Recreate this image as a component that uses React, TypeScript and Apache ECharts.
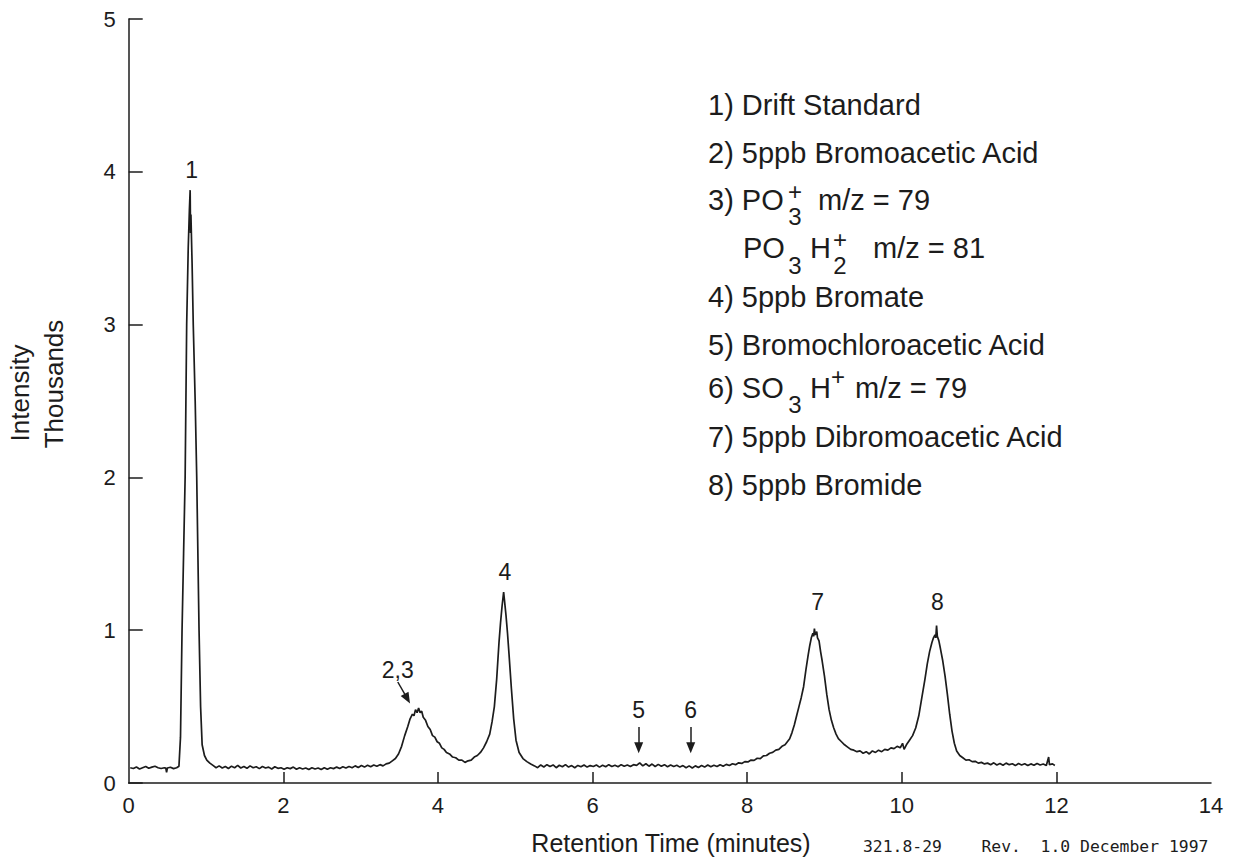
import { useEffect, useRef } from 'react';
import * as echarts from 'echarts';

const FONT = '"Liberation Sans", Arial, Helvetica, sans-serif';
const MONO = '"DejaVu Sans Mono", "Liberation Mono", monospace';
const INK = '#1c1c1c';

// ---- axes ----
const xMin = 0;
const xMax = 14;
const xStep = 2;
const xTickMarks = [2, 4, 6, 8, 10, 12];
const yMin = 0;
const yMax = 5;
const yStep = 1;

// ---- trace (retention time in minutes, intensity in thousands) ----
const baselineStart: number[][] = [
  [0.02, 0.1], [0.06, 0.095], [0.1, 0.105], [0.14, 0.092], [0.18, 0.1], [0.22, 0.108], [0.26, 0.096],
  [0.3, 0.104], [0.34, 0.11], [0.38, 0.1], [0.42, 0.095], [0.46, 0.1], [0.48, 0.098], [0.49, 0.07],
  [0.5, 0.098], [0.54, 0.103], [0.58, 0.094], [0.62, 0.1],
];
const peakDrift: number[][] = [
  [0.65, 0.11], [0.67, 0.3], [0.69, 1.0], [0.71, 1.5], [0.73, 2.0], [0.75, 3.0], [0.77, 3.5],
  [0.785, 3.75], [0.795, 3.88], [0.8, 3.6], [0.805, 3.72], [0.82, 3.4], [0.835, 3.0], [0.86, 2.5],
  [0.88, 2.0], [0.91, 1.0], [0.93, 0.5], [0.95, 0.25], [0.98, 0.18], [1.01, 0.15], [1.05, 0.13], [1.09, 0.115],
];
const baselineEarly: number[][] = [
  [1.13, 0.1], [1.17, 0.112], [1.21, 0.098], [1.25, 0.108], [1.29, 0.095], [1.33, 0.11], [1.37, 0.1],
  [1.41, 0.115], [1.45, 0.098], [1.49, 0.108], [1.53, 0.096], [1.57, 0.112], [1.61, 0.1], [1.65, 0.106],
  [1.69, 0.094], [1.73, 0.108], [1.77, 0.098], [1.81, 0.104], [1.85, 0.092], [1.89, 0.106], [1.93, 0.096],
  [1.97, 0.1], [2.01, 0.09], [2.05, 0.1], [2.09, 0.094], [2.13, 0.104], [2.17, 0.09], [2.21, 0.1],
  [2.25, 0.092], [2.29, 0.098], [2.33, 0.088], [2.37, 0.1], [2.41, 0.092], [2.45, 0.098], [2.49, 0.088],
  [2.53, 0.1], [2.57, 0.09], [2.61, 0.1], [2.65, 0.094], [2.69, 0.104], [2.73, 0.095], [2.77, 0.106],
  [2.81, 0.098], [2.85, 0.108], [2.89, 0.1], [2.93, 0.112], [2.97, 0.102], [3.01, 0.114], [3.05, 0.104],
  [3.09, 0.116], [3.13, 0.106], [3.17, 0.118], [3.21, 0.11], [3.25, 0.12], [3.29, 0.112], [3.33, 0.125], [3.37, 0.13],
];
const peaksBromoBromate: number[][] = [
  [3.41, 0.145], [3.45, 0.16], [3.49, 0.19], [3.53, 0.24], [3.57, 0.31], [3.61, 0.37], [3.64, 0.42],
  [3.67, 0.45], [3.69, 0.44], [3.71, 0.48], [3.73, 0.46], [3.75, 0.49], [3.77, 0.46], [3.79, 0.47],
  [3.81, 0.43], [3.84, 0.41], [3.87, 0.37], [3.9, 0.35], [3.93, 0.31], [3.96, 0.3], [3.99, 0.27],
  [4.02, 0.26], [4.05, 0.23], [4.08, 0.22], [4.11, 0.2], [4.15, 0.19], [4.19, 0.17], [4.23, 0.165],
  [4.27, 0.15], [4.31, 0.15], [4.35, 0.135], [4.39, 0.145], [4.43, 0.15], [4.47, 0.17], [4.51, 0.18],
  [4.55, 0.2], [4.59, 0.23], [4.63, 0.27], [4.67, 0.32], [4.7, 0.4], [4.73, 0.5], [4.76, 0.68],
  [4.79, 0.92], [4.81, 1.05], [4.83, 1.16], [4.85, 1.25], [4.86, 1.2], [4.88, 1.1], [4.9, 0.98],
  [4.92, 0.84], [4.95, 0.62], [4.98, 0.42], [5.01, 0.28], [5.05, 0.2], [5.1, 0.16], [5.15, 0.14],
  [5.2, 0.125], [5.25, 0.112],
];
const baselineMiddle: number[][] = [
  [5.29, 0.1], [5.33, 0.118], [5.37, 0.105], [5.41, 0.12], [5.45, 0.108], [5.49, 0.118], [5.53, 0.1],
  [5.57, 0.116], [5.61, 0.106], [5.65, 0.12], [5.69, 0.104], [5.73, 0.114], [5.77, 0.1], [5.81, 0.115],
  [5.85, 0.106], [5.89, 0.118], [5.93, 0.104], [5.97, 0.114], [6.01, 0.108], [6.05, 0.118], [6.09, 0.104],
  [6.13, 0.116], [6.17, 0.106], [6.21, 0.12], [6.25, 0.108], [6.29, 0.116], [6.33, 0.106], [6.37, 0.12],
  [6.41, 0.11], [6.45, 0.118], [6.49, 0.108], [6.53, 0.12], [6.57, 0.115], [6.61, 0.132], [6.65, 0.112],
  [6.69, 0.126], [6.73, 0.11], [6.77, 0.124], [6.81, 0.108], [6.85, 0.122], [6.89, 0.11], [6.93, 0.12],
  [6.97, 0.106], [7.01, 0.118], [7.05, 0.108], [7.09, 0.116], [7.13, 0.104], [7.17, 0.114], [7.21, 0.1],
  [7.25, 0.112], [7.29, 0.098], [7.33, 0.112], [7.37, 0.102], [7.41, 0.114], [7.45, 0.104], [7.49, 0.118],
  [7.53, 0.106], [7.57, 0.116], [7.61, 0.108], [7.65, 0.12], [7.69, 0.11], [7.73, 0.122], [7.77, 0.114],
  [7.81, 0.126], [7.85, 0.12],
];
const peaksDibromoBromide: number[][] = [
  [7.89, 0.132], [7.93, 0.128], [7.97, 0.14], [8.01, 0.138], [8.05, 0.15], [8.09, 0.148], [8.13, 0.162],
  [8.17, 0.16], [8.21, 0.178], [8.25, 0.18], [8.29, 0.195], [8.33, 0.2], [8.37, 0.215], [8.41, 0.22],
  [8.45, 0.24], [8.49, 0.25], [8.52, 0.27], [8.55, 0.29], [8.58, 0.33], [8.61, 0.38], [8.64, 0.44],
  [8.67, 0.5], [8.7, 0.56], [8.73, 0.63], [8.76, 0.74], [8.79, 0.84], [8.81, 0.9], [8.83, 0.95],
  [8.85, 0.98], [8.86, 0.96], [8.87, 1.01], [8.88, 0.97], [8.9, 0.99], [8.91, 0.95], [8.93, 0.93],
  [8.95, 0.86], [8.97, 0.8], [9.0, 0.7], [9.03, 0.58], [9.06, 0.48], [9.09, 0.41], [9.12, 0.36],
  [9.15, 0.32], [9.18, 0.29], [9.22, 0.27], [9.26, 0.25], [9.3, 0.235], [9.34, 0.22], [9.38, 0.215],
  [9.42, 0.205], [9.46, 0.21], [9.5, 0.195], [9.54, 0.205], [9.58, 0.19], [9.62, 0.21], [9.66, 0.2],
  [9.7, 0.215], [9.74, 0.205], [9.78, 0.22], [9.82, 0.215], [9.86, 0.23], [9.9, 0.225], [9.94, 0.24],
  [9.98, 0.23], [10.01, 0.26], [10.03, 0.22], [10.06, 0.25], [10.1, 0.28], [10.14, 0.31], [10.18, 0.36],
  [10.22, 0.44], [10.26, 0.56], [10.3, 0.68], [10.33, 0.78], [10.36, 0.86], [10.39, 0.92], [10.41, 0.95],
  [10.43, 0.97], [10.44, 0.95], [10.45, 1.03], [10.46, 0.96], [10.48, 0.93], [10.5, 0.88], [10.53, 0.8],
  [10.56, 0.7], [10.59, 0.58], [10.62, 0.45], [10.65, 0.34], [10.68, 0.26], [10.71, 0.21], [10.75, 0.18],
  [10.79, 0.165], [10.83, 0.15], [10.87, 0.152], [10.91, 0.14], [10.95, 0.142], [10.99, 0.13],
];
const baselineEnd: number[][] = [
  [11.03, 0.135], [11.07, 0.125], [11.11, 0.13], [11.15, 0.12], [11.19, 0.132], [11.23, 0.118],
  [11.27, 0.128], [11.31, 0.116], [11.35, 0.13], [11.39, 0.12], [11.43, 0.126], [11.47, 0.114],
  [11.51, 0.128], [11.55, 0.118], [11.59, 0.126], [11.63, 0.114], [11.67, 0.125], [11.71, 0.116],
  [11.75, 0.128], [11.79, 0.118], [11.83, 0.124], [11.87, 0.115], [11.9, 0.17], [11.91, 0.12],
  [11.95, 0.125], [11.98, 0.115],
];

// ---- peak annotations ----
const peakLabels = ['1', '2,3', '4', '5', '6', '7', '8'];
const peakLabelTime = [0.814, 3.48, 4.865, 6.597, 7.27, 8.911, 10.46];
const peakLabelIntensity = [4.01, 0.74, 1.383, 0.478, 0.478, 1.185, 1.185];
const arrowStart = [[3.481, 0.661], [6.597, 0.366], [7.27, 0.366]];
const arrowEnd = [[3.604, 0.552], [6.597, 0.23], [7.27, 0.23]];

// ---- texts ----
const legendLines = [
  '1) Drift Standard',
  '2) 5ppb Bromoacetic Acid',
  '3) PO',
  'PO',
  '4) 5ppb Bromate',
  '5) Bromochloroacetic Acid',
  '6) SO',
  '7) 5ppb Dibromoacetic Acid',
  '8) 5ppb Bromide',
];
const formulaTails = ['m/z = 79', 'm/z = 81', 'm/z = 79'];
const yAxisNameLines = ['Intensity', 'Thousands'];
const xAxisName = 'Retention Time (minutes)';
const docNote = '321.8-29    Rev.  1.0 December 1997';

const trace = [
  ...baselineStart,
  ...peakDrift,
  ...baselineEarly,
  ...peaksBromoBromate,
  ...baselineMiddle,
  ...peaksDibromoBromide,
  ...baselineEnd,
];

function txt(x: number, y: number, text: string, fontSize: number, opts: any = {}) {
  const align = opts.align || 'left';
  const va = opts.va || 'middle';
  return {
    type: 'text',
    x,
    y,
    rotation: opts.rotation || 0,
    silent: true,
    style: {
      text,
      fill: INK,
      fontSize,
      fontFamily: opts.family || FONT,
      align,
      textAlign: align,
      verticalAlign: va,
      textVerticalAlign: va,
    },
  };
}

function buildGraphic() {
  const els: any[] = [];
  const LX = 708;
  const baselines = [115, 163, 210, 258, 307, 355, 398, 447, 495];
  const MAIN = 29;
  const SMALL = 24;
  legendLines.forEach((line, i) => {
    const x = i === 3 ? 743 : LX;
    els.push(txt(x, baselines[i] - 10, line, MAIN));
  });
  // line 3: PO3+ m/z = 79
  els.push(txt(795, baselines[2] - 19, '+', SMALL, { align: 'center' }));
  els.push(txt(795, baselines[2] + 6, '3', SMALL, { align: 'center' }));
  els.push(txt(818, baselines[2] - 10, formulaTails[0], MAIN));
  // line 3b: PO3 H2+ m/z = 81
  els.push(txt(795, baselines[3] + 7, '3', SMALL, { align: 'center' }));
  els.push(txt(810, baselines[3] - 10, 'H', MAIN));
  els.push(txt(840, baselines[3] - 19, '+', SMALL, { align: 'center' }));
  els.push(txt(840, baselines[3] + 7, '2', SMALL, { align: 'center' }));
  els.push(txt(873, baselines[3] - 10, formulaTails[1], MAIN));
  // line 6: SO3 H+ m/z = 79
  els.push(txt(795, baselines[6] + 6, '3', SMALL, { align: 'center' }));
  els.push(txt(810, baselines[6] - 10, 'H', MAIN));
  els.push(txt(838, baselines[6] - 22, '+', SMALL, { align: 'center' }));
  els.push(txt(855, baselines[6] - 10, formulaTails[2], MAIN));

  // axis names
  els.push(txt(20, 393, yAxisNameLines[0], 26, { align: 'center', rotation: Math.PI / 2 }));
  els.push(txt(54, 384, yAxisNameLines[1], 26, { align: 'center', rotation: Math.PI / 2 }));
  els.push(txt(671, 843, xAxisName, 25, { align: 'center' }));
  els.push(txt(863, 846, docNote, 16.4, { family: MONO }));
  return els;
}

export default function App() {
  const ref = useRef<HTMLDivElement>(null);
  useEffect(() => {
    if (!ref.current) return;
    const chart = echarts.init(ref.current, undefined, { renderer: 'svg' });
    const option: any = {
      animation: false,
      backgroundColor: '#ffffff',
      grid: { left: 128.7, right: 28, top: 19, bottom: 75, containLabel: false },
      xAxis: {
        type: 'value',
        min: xMin,
        max: xMax,
        interval: xStep,
        splitLine: { show: false },
        axisLine: { show: true, onZero: false, lineStyle: { color: INK, width: 1.5 } },
        axisTick: { show: true, inside: true, length: 11, customValues: xTickMarks, lineStyle: { color: INK, width: 1.5 } },
        axisLabel: { color: INK, fontSize: 22, fontFamily: FONT, margin: 11 },
      },
      yAxis: {
        type: 'value',
        min: yMin,
        max: yMax,
        interval: yStep,
        splitLine: { show: false },
        axisLine: { show: true, lineStyle: { color: INK, width: 1.5 } },
        axisTick: { show: true, inside: true, length: 14, lineStyle: { color: INK, width: 1.5 } },
        axisLabel: { color: INK, fontSize: 22, fontFamily: FONT, margin: 13 },
      },
      series: [
        {
          type: 'line',
          data: trace,
          showSymbol: false,
          symbol: 'none',
          silent: true,
          lineStyle: { color: INK, width: 1.7 },
          markPoint: {
            silent: true,
            symbol: 'circle',
            symbolSize: 1,
            itemStyle: { color: 'rgba(0,0,0,0)' },
            label: { show: true, position: 'inside', color: INK, fontSize: 23, fontFamily: FONT, formatter: '{b}' },
            data: peakLabels.map((name, i) => ({ name, coord: [peakLabelTime[i], peakLabelIntensity[i]] })),
          },
          markLine: {
            silent: true,
            symbol: ['none', 'triangle'],
            symbolSize: [9, 11],
            label: { show: false },
            lineStyle: { color: INK, width: 1.5, type: 'solid' },
            emphasis: { disabled: true },
            data: arrowStart.map((s, i) => [{ coord: s }, { coord: arrowEnd[i] }]),
          },
        },
      ],
      graphic: buildGraphic(),
    };
    chart.setOption(option);
    return () => chart.dispose();
  }, []);
  return (
    <div
      ref={ref}
      style={{ position: 'absolute', left: 0, top: 0, width: 1239, height: 858, background: '#fff' }}
    />
  );
}
